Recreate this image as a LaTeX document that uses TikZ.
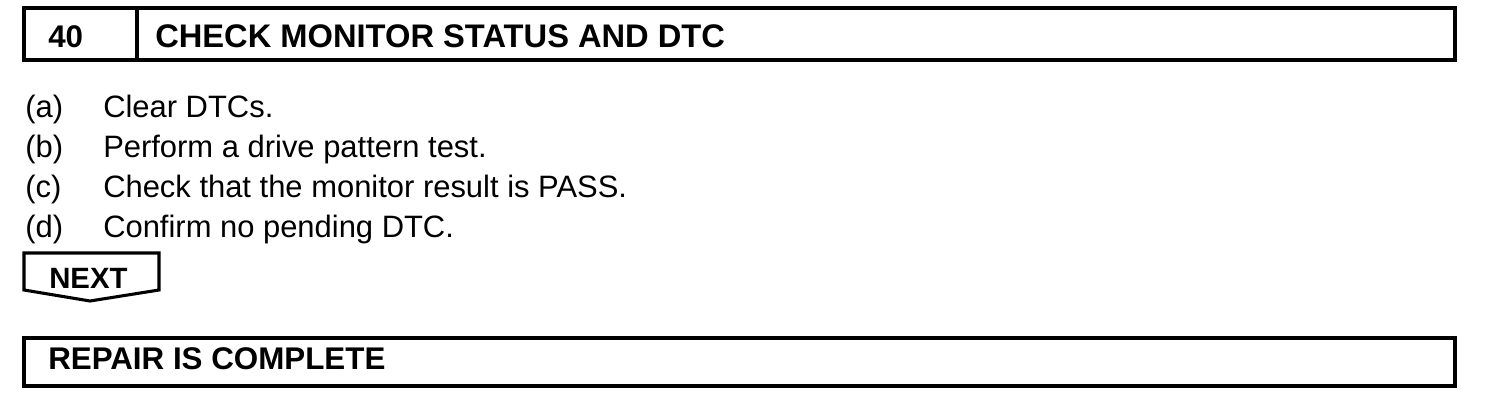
\documentclass[tikz,border=0pt]{standalone}
\usepackage{fontspec}
\setmainfont{Liberation Sans}
\begin{document}
\begin{tikzpicture}[x=0.75pt,y=-0.75pt,
  frame/.style={line width=2.6pt},
  thinframe/.style={line width=2.3pt},
  bodytext/.style={inner sep=0pt,anchor=base west,font=\fontsize{23.2}{28}\selectfont},
  headtext/.style={inner sep=0pt,anchor=base west,font=\fontsize{23.5}{28}\selectfont\bfseries},
  titletext/.style={inner sep=0pt,anchor=base west,font=\fontsize{24.5}{28}\selectfont\bfseries},
  nexttext/.style={inner sep=0pt,anchor=base west,font=\fontsize{22}{26}\selectfont\bfseries}]
\useasboundingbox (0,0) rectangle (1504,404);
% header box
\draw[frame] (24,8) rectangle (1455,60);
\draw[thinframe] (137,8) -- (137,60);
\node[headtext] (num) at (48,47) {40};
\node[titletext] (title) at (155,47) {CHECK MONITOR STATUS AND DTC};
% steps
\node[bodytext] (la) at (25,117) {(a)};
\node[bodytext] (ta) at (103,117) {Clear DTCs.};
\node[bodytext] (lb) at (25,157) {(b)};
\node[bodytext] (tb) at (103,157) {Perform a drive pattern test.};
\node[bodytext] (lc) at (25,197) {(c)};
\node[bodytext] (tc) at (103,197) {Check that the monitor result is PASS.};
\node[bodytext] (ld) at (25,237) {(d)};
\node[bodytext] (td) at (103,237) {Confirm no pending DTC.};
% NEXT marker
\draw[thinframe,line join=miter] (24,253) -- (159,253) -- (159,290) -- (90,301) -- (24,290) -- cycle;
\node[nexttext] (next) at (49,288) {NEXT};
% result box
\draw[frame] (24,338) rectangle (1455,386);
\node[headtext] (done) at (48,369) {REPAIR IS COMPLETE};
\end{tikzpicture}
\end{document}
